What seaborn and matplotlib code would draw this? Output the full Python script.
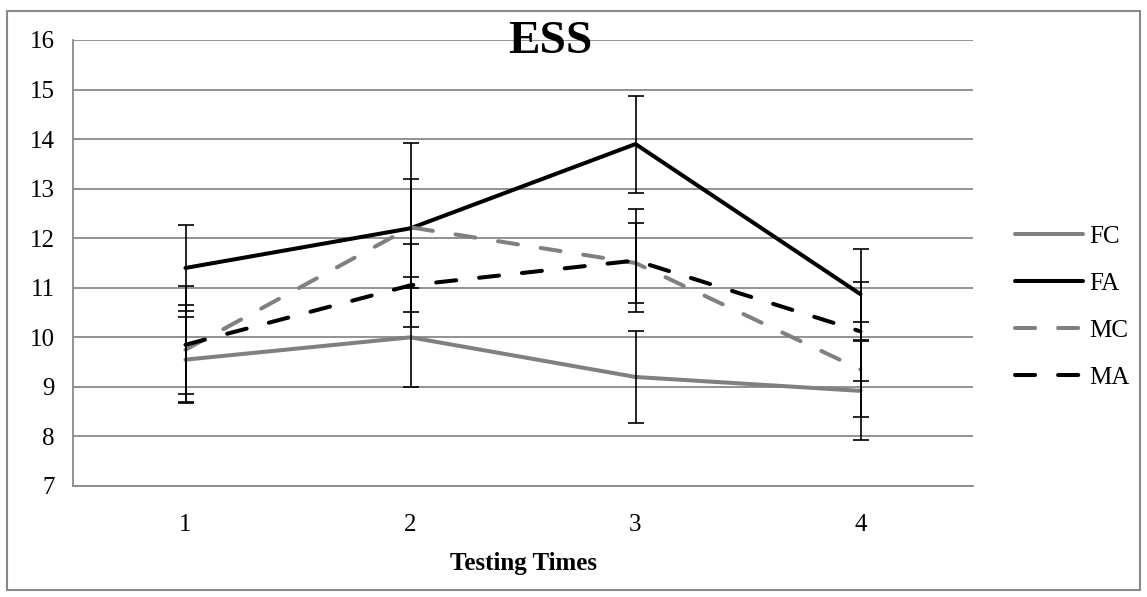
import matplotlib
matplotlib.use("Agg")
import matplotlib.pyplot as plt
import seaborn as sns
import pandas as pd
import numpy as np
from matplotlib.patches import Rectangle
from matplotlib.lines import Line2D

# ---- data ----
times = [1, 2, 3, 4]
series = ["FC", "FA", "MC", "MA"]
fc_vals = [9.55, 10.0, 9.2, 8.92]
fa_vals = [11.4, 12.2, 13.9, 10.87]
mc_vals = [9.75, 12.22, 11.5, 9.35]
ma_vals = [9.85, 11.05, 11.55, 10.12]
fc_err = [0.86, 1.0, 0.92, 1.0]
fa_err = [0.87, 0.99, 0.98, 0.92]
mc_err = [0.9, 1.71, 0.8, 0.96]
ma_err = [1.18, 0.84, 1.03, 1.0]
yticks = [7, 8, 9, 10, 11, 12, 13, 14, 15, 16]

vals = {"FC": fc_vals, "FA": fa_vals, "MC": mc_vals, "MA": ma_vals}
errs = {"FC": fc_err, "FA": fa_err, "MC": mc_err, "MA": ma_err}

df = pd.DataFrame([(t, s, v) for s in series for t, v in zip(times, vals[s])],
                  columns=["time", "series", "value"])

sns.set_style("white")
plt.rcParams["font.family"] = ["Liberation Serif", "DejaVu Serif"]
plt.rcParams["text.color"] = "black"
plt.rcParams["axes.labelcolor"] = "black"
plt.rcParams["xtick.labelcolor"] = "black"
plt.rcParams["ytick.labelcolor"] = "black"

W, H = 1147, 597
fig = plt.figure(figsize=(W / 100, H / 100), dpi=100)
ax = fig.add_axes([73 / W, 1 - 486 / H, (973 - 73) / W, (486 - 40) / H])

gray = "#808080"
palette = {"FC": gray, "FA": "black", "MC": gray, "MA": "black"}
dashes = {"FC": "", "FA": "", "MC": (5, 5.7), "MA": (5, 5.7)}

sns.lineplot(data=df, x="time", y="value", hue="series", style="series",
             palette=palette, dashes=dashes, hue_order=series, style_order=series,
             linewidth=2.9, ax=ax, legend=False, zorder=2)
for ln in ax.get_lines():
    ln.set_dash_capstyle("round")
    ln.set_solid_capstyle("round")

for s in series:
    ax.errorbar(times, vals[s], yerr=errs[s], fmt="none", ecolor="black",
                elinewidth=1.2, capsize=6, capthick=1.2, zorder=3)

ax.set_xlim(0.5, 4.5)
ax.set_ylim(7, 16)
ax.set_yticks(yticks)
ax.set_xticks(times)
ax.set_xticks([0.5, 1.5, 2.5, 3.5, 4.5], minor=True)
ax.tick_params(axis="x", which="major", length=0, labelsize=18, pad=20, labelcolor="black")
ax.tick_params(axis="x", which="minor", length=6, width=1.2, color="#898989", direction="out")
ax.tick_params(axis="y", length=7, width=1.2, color="#898989", labelsize=18, pad=6,
               direction="out", labelcolor="black")
ax.grid(axis="y", color="#898989", linewidth=1.3)
ax.set_axisbelow(True)
for side in ["top", "right"]:
    ax.spines[side].set_visible(False)
for side in ["left", "bottom"]:
    ax.spines[side].set_color("#898989")
    ax.spines[side].set_linewidth(1.3)

ax.set_xlabel("Testing Times", fontsize=18, fontweight="bold", labelpad=12, color="black")
ax.set_ylabel("")
ax.text(0.53, 0.995, "ESS", transform=ax.transAxes, ha="center", va="center",
        fontsize=34, fontweight="bold", color="black")

handles = []
for s in series:
    h = Line2D([0], [0], color=palette[s], linewidth=2.9,
               linestyle="-" if dashes[s] == "" else (0, dashes[s]),
               dash_capstyle="round", solid_capstyle="round")
    handles.append(h)
leg = fig.legend(handles, series, loc="center left", bbox_to_anchor=(1015 / W, 1 - 307 / H),
                 frameon=False, fontsize=18, handlelength=2.7, handletextpad=0.25,
                 labelspacing=0.98, borderpad=0, borderaxespad=0)
for t in leg.get_texts():
    t.set_color("black")

fig.patches.append(Rectangle((7 / W, 1 - 590 / H), (1140 - 7) / W, (590 - 11) / H,
                             transform=fig.transFigure, fill=False,
                             edgecolor="#898989", linewidth=1.5))

fig.savefig("out.png", dpi=100)
